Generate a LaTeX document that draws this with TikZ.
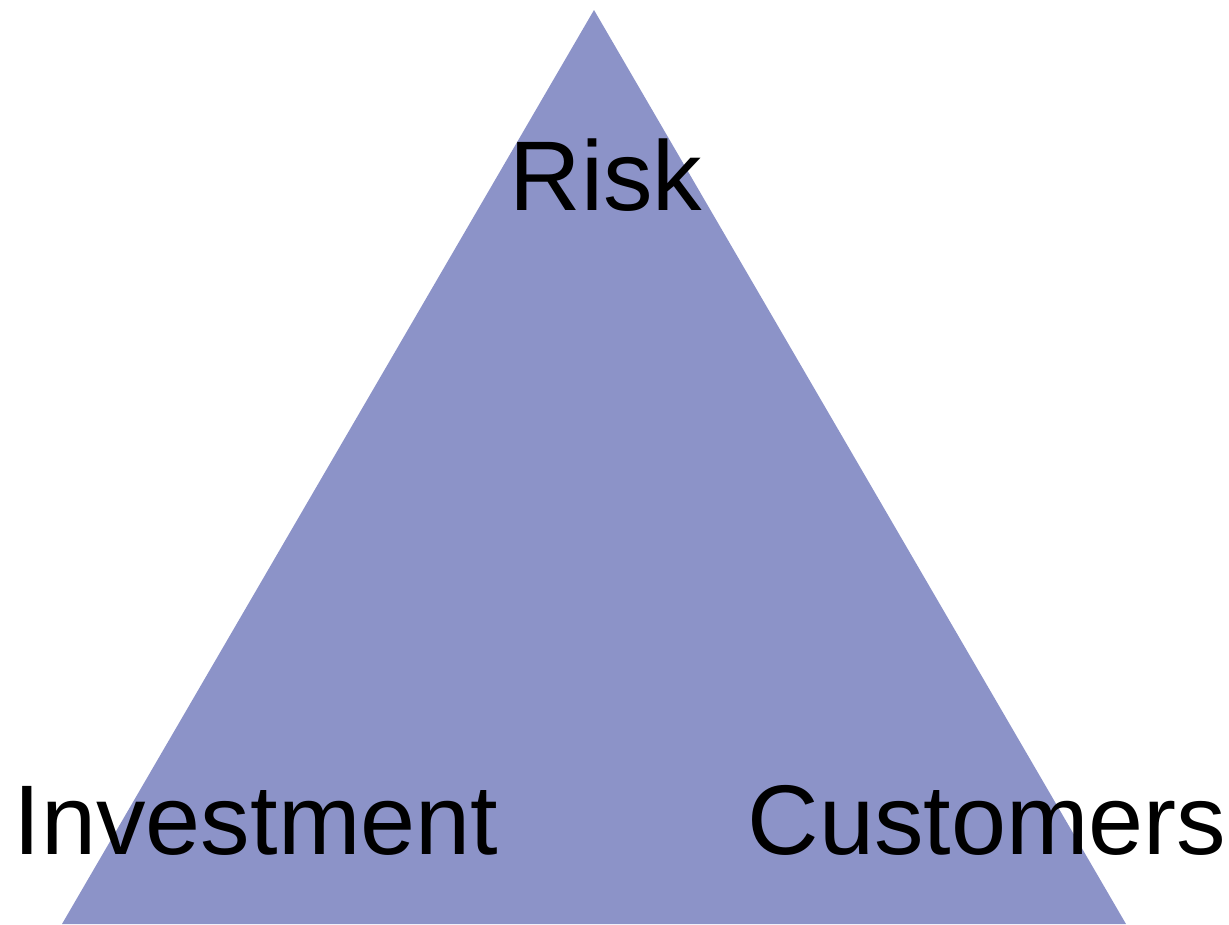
\documentclass[tikz,border=0pt]{standalone}
\usepackage{fontspec}
\setmainfont{Liberation Sans}
\definecolor{trifill}{HTML}{8C93C8}
\begin{document}
\begin{tikzpicture}[x=1pt,y=-1pt,
  label text/.style={inner sep=0pt, anchor=base, font=\fontsize{99}{110}\selectfont, text=black}]
\useasboundingbox (0,0) rectangle (1229,924);
\coordinate (apex) at (594,10);
\coordinate (bl) at (62,924);
\coordinate (br) at (1126,924);
\fill[trifill] (apex) -- (bl) -- (br) -- cycle;
\node[label text] (risk) at (606,210) {Risk};
\node[label text] (inv) at (256,854) {Investment};
\node[label text] (cust) at (987,854) {Customers};
\end{tikzpicture}
\end{document}
